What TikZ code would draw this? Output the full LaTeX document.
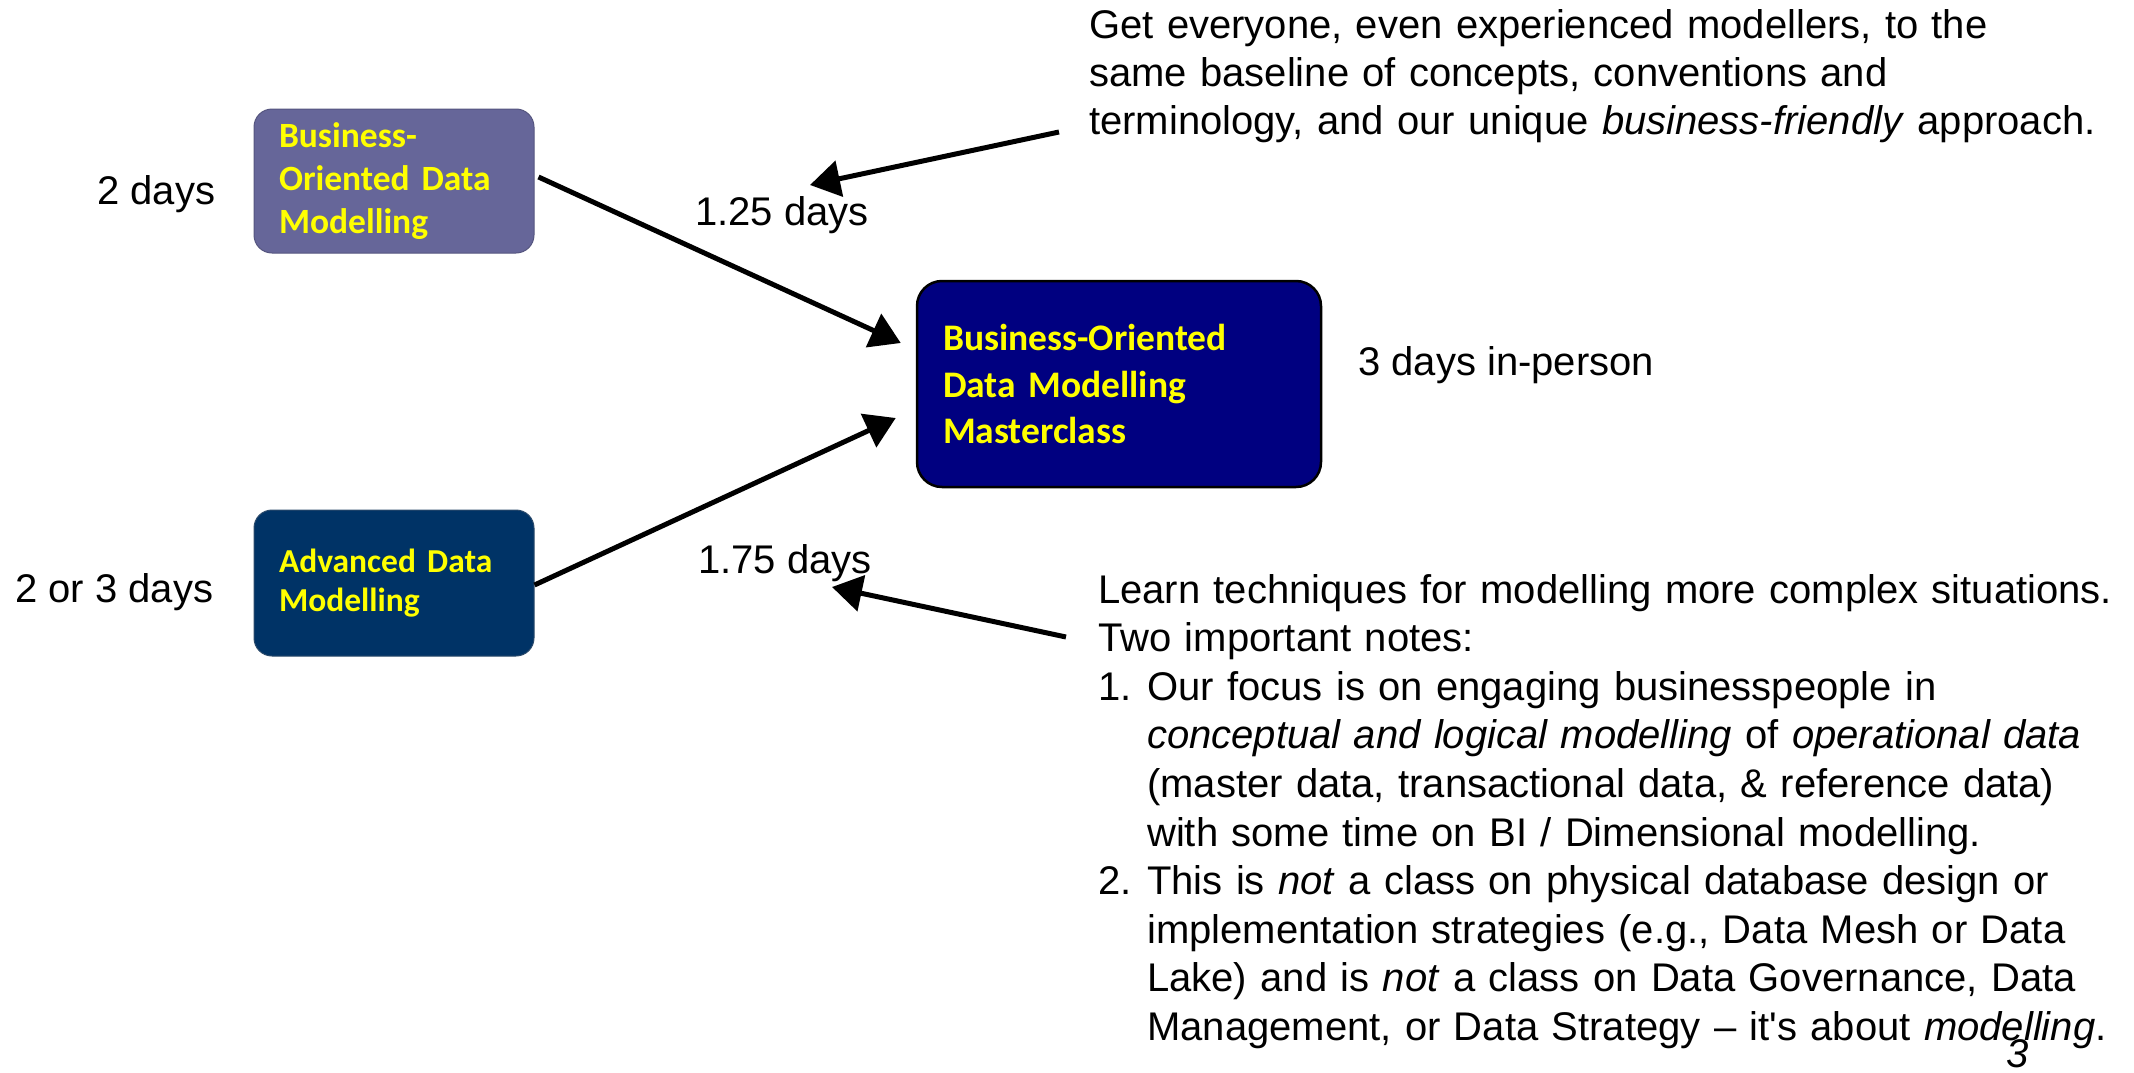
\documentclass[tikz,border=0pt]{standalone}
\usepackage{fontspec}
\setmainfont[Ligatures=TeXOff]{Liberation Sans}
\newfontfamily\boxfont{Carlito}
\usetikzlibrary{arrows.meta}
\definecolor{boxA}{HTML}{666699}
\definecolor{boxAline}{HTML}{55557F}
\definecolor{boxB}{HTML}{003366}
\definecolor{boxBline}{HTML}{2B4A6B}
\definecolor{boxC}{HTML}{000080}
\definecolor{txtyellow}{HTML}{FFFF00}
\tikzset{
  course/.style={rectangle, rounded corners=18pt, text=txtyellow, align=left,
    inner xsep=25pt, inner ysep=0pt, line width=1pt},
  label/.style={anchor=base west, inner sep=0pt, font=\fontsize{40}{48}\selectfont},
  note/.style={anchor=base west, inner sep=0pt, align=left, text width=1040pt},
  bigarrow/.style={line width=5pt, -{Triangle[length=30pt,width=36pt]}},
}
\begin{document}
\begin{tikzpicture}[x=1pt,y=-1pt]
\useasboundingbox[fill=white] (0,0) rectangle (2134,1073);

% course boxes
\node[course, fill=boxA, draw=boxAline, minimum height=144pt, text width=230pt,
  font=\boxfont\bfseries\fontsize{35.5}{43}\selectfont] (b1) at (394,181)
  {Business-\\Oriented Data\\Modelling};
\node[course, fill=boxB, draw=boxBline, minimum height=146pt, text width=230pt,
  font=\boxfont\bfseries\fontsize{33.5}{39.5}\selectfont] (b2) at (394,583)
  {Advanced Data\\Modelling};
\node[course, fill=boxC, draw=black, line width=2.5pt, rounded corners=25pt,
  inner xsep=26pt, minimum height=206pt, text width=352pt,
  font=\boxfont\bfseries\fontsize{37.5}{46.5}\selectfont] (m) at (1119,384)
  {Business-Oriented\\Data Modelling\\Masterclass};

% duration labels
\node[label] (d1) at (97,204) {2 days};
\node[label] (d2) at (15,602) {2 or 3 days};
\node[label] (d3) at (1358,375) {3 days in-person};
\node[label] (l1) at (695,225) {1.25 days};
\node[label] (l2) at (698,573) {1.75 days};

% notes
\node[note, font=\fontsize{40}{48}\selectfont] (tt) at (1089,39)
  {Get everyone, even experienced modellers, to the\\
   same baseline of concepts, conventions and\\
   terminology, and our unique \textit{business-friendly} approach.};
\node[note, font=\fontsize{40}{48.6}\selectfont] (bt) at (1098,603)
  {Learn techniques for modelling more complex situations.\\
   Two important notes:\\
   \makebox[49pt][l]{1.}Our focus is on engaging businesspeople in\\
   \hspace*{49pt}\textit{conceptual and logical modelling} of \textit{operational data}\\
   \hspace*{49pt}(master data, transactional data, \& reference data)\\
   \hspace*{49pt}with some time on BI / Dimensional modelling.\\
   \makebox[49pt][l]{2.}This is \textit{not} a class on physical database design or\\
   \hspace*{49pt}implementation strategies (e.g., Data Mesh or Data\\
   \hspace*{49pt}Lake) and is \textit{not} a class on Data Governance, Data\\
   \hspace*{49pt}Management, or Data Strategy – it's about \textit{modelling}.};

% slide number
\node[label, font=\itshape\fontsize{40}{48}\selectfont] (pg) at (2006,1067) {3};

% connectors
\draw[bigarrow] ([xshift=4pt,yshift=4pt]b1.east) -- ([xshift=-15pt,yshift=41pt]m.west);
\draw[bigarrow] ([yshift=-2pt]b2.east) -- ([xshift=-20pt,yshift=-34pt]m.west);
\draw[bigarrow] ([xshift=-30pt,yshift=-93pt]tt.base west) -- ([xshift=115pt,yshift=40pt]l1.base west);
\draw[bigarrow] ([xshift=-32pt,yshift=-34pt]bt.base west) -- ([xshift=134pt,yshift=-14pt]l2.base west);
\end{tikzpicture}
\end{document}
